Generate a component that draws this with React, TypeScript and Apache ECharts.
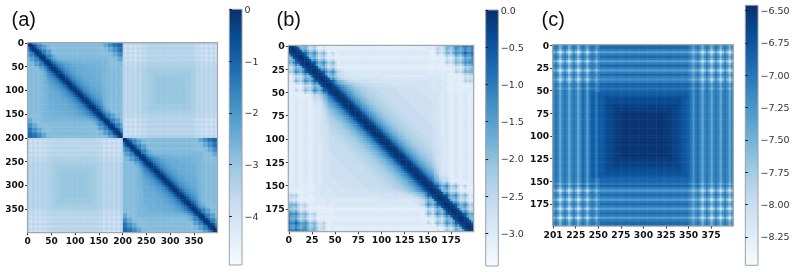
import React, { useEffect, useRef } from "react";
import * as echarts from "echarts";

// Panel (b): each row runs from the diagonal (left part) through a flat level to the far end (right part).
const bFalloff = [0,1,2,5,9,12,14,16,18,19,20,21,22,23,23,24,24,25,25,25,26,26,26,26,26,26,26,26,27,27,27,27,27,27,27,27,27,27,28,28];
const bLeft: number[][] = [
  [0,1,2,5,15,20,18,15,21,26,24,21,27,31,30,27,31,31,31,31],
  [0,1,2,5,18,19,18,22,28,25,24,28,31,31,30,31,31,31,31],
  [0,1,2,5,15,12,18,22,21,18,24,28,27,24,30,31,31,30,31],
  [0,1,2,5,6,12,18,15,12,18,24,21,18,24,30,27,24,30,31,30],
  [0,1,2,5,15,20,18,15,21,26,24,21,27,31,30,27,31,31],
  [0,1,2,5,18,19,18,22,28,25,24,28,31,31,30,31],
  [0,1,2,5,15,12,18,22,21,18,24,28,27,24,30,31,31],
  [0,1,2,5,6,12,18,15,12,18,24,21,18,24,30,30],
  [0,1,2,5,15,20,18,15,21,26,24,21,27,31,30],
  [0,1,2,5,18,19,18,22,28,25,24,28,31],
  [0,1,2,5,15,12,18,22,21,18,24,28,28,29],
  [0,1,2,5,6,12,18,15,12,18,24,25,27,28],
  [0,1,2,5,15,20,18,15,21,26,26,27,28,28],
  [0,1,2,5,18,19,18,21,24,26,27,28,28,29,29,29,29,29,29,29,29,29,29,29,29,29,29,29,29,30],
  [0,1,2,5,15,12,18,21,23,25,26,27,27,28,28,28,28,28,28,28,28,28,28,28,28,28,29,29,29,29],
  [0,1,2,5,6,12,18,19,20,22,23,25,26,26,27,27,27,27,27,27,28,28,28,28,28,28,28,28,28,28],
  [0,1,2,5,11,15,17,19,20,21,22,23,24,25,25,26,26,26,27,27,27,27,27,27,27,27,27,28,28,28],
  [0,1,2,5,9,12,14,16,18,19,21,22,23,24,24,25,25,26,26,26,27,27,27,27,27,27,27,27,28,28],
];
const bLevel = [30,31,30,29,30,31,30,29,30,31,30,29,29,30,29,28,28,28];
const bRight: number[][] = [
  [30,30,31,29,25,26,27,22,18,18,20,15,12,12,14,10,8,11,11,8],
  [29,30,31,29,23,26,28,23,18,20,22,18,12,15,18,15,11,15,15],
  [30,31,31,30,25,27,29,25,19,22,23,19,14,16,18,15,11,15],
  [29,30,31,28,23,25,27,22,18,19,22,16,12,14,16,11,6],
  [30,31,31,31,28,30,31,27,22,25,26,22,16,19,21,16],
  [31,31,31,31,31,31,31,31,27,29,31,26,22,23,26],
  [31,31,31,31,30,31,31,30,25,27,29,25,19,22],
  [30,30,30,30,29,30,31,28,23,25,27,22,18],
  [31,31,31,30,31,31,31,31,28,30,31,27],
  [31,31,31,31,31,31,31,31,31,31,31],
  [31,31,31,30,31,31,31,31,30,31],
  [30,30,30,29,30,30,30,30,29],
  [30,29,29,29,30,29,29,29],
  [29,30,29,30,29,30,30],
  [29,28,29,28,29,29],
  [28,29,28,29,28],
  [29,28,29,29],
  [28,29,29],
];

// Panel (c): parts of the typical rows: columns 0-20, a level or centre run, columns 60-79.
const cDarkL = [71,70,71.5,75,71.5,70,71.5,75,71.5,70,71.5,75,71.5,70,71,74,71,70,70,72.5,71];
const cDarkR = [70,71,73,71,70,71.5,75,71.5,70,71.5,75,71.5,70,71.5,75,71.5,70,71.5,75,71.5];
const cLightL = [75,74,77,82,77,74,77,82,77,74,77,82,77,74,76,80,76,73.5,74,77,74];
const cLightR = [74,75,77,75,74,76.5,81,76.5,74,77,82,77,74,77,82,77,74,77,82,77];
const cHalfL = [72,71,73,77,73,71,73,77,73,71,73,77,73,71,72,76,72,70.5,71,74,71];
const cHalfR = [71,72,74,72,71,73,76.5,73,71,73,77,73,71,73,77,73,71,73,77,73];
const cSoftL = [74,73,76,80,76,73,76,80,76,73,76,80,76,73,75,79,75,72.5,73,76,73];
const cSoftR = [73,74,76,74,73,75.5,79,75.5,73,76,80,76,73,76,80,76,73,76,80,76];
const cEndL = [71,70,71,74,71,70,71,74,71,70,71,74,71,69,70,73,70,69,69,71.5,70];
const cEndR = [69,70,72,70,69,71,74,71,70,71,74,71,70,71,74,71,70,71,74,71];
const cWeakL = [72,71.5,73,76,73,71.5,73,76,73,71.5,73,76,73,71,72,75,72,71,71,73,71];
const cWeakR = [71,72,74,72,71,73,76,73,71,73,76,73,71,73,76,73,71,73,76,73];
const cMidL = [71,70,71,74,71,70,71,74,71,70,71,74,71,69,70,73,70,68,68,70.5,68];
const cMidR = [68.5,70,72.5,70,69.5,71,74,71,70,71,74,71,70,71,74,71,70,71,74,71];
const run = (n: number, v: number) => new Array(n).fill(v);
const cCentre680 = [68];
const cCentre675 = [68, ...run(37, 67.5), 68];
const cCentre670 = [68, 67.5, ...run(35, 67), 67.5, 68];
const cCentre665 = [68, 67.5, 67, ...run(33, 66.5), 67, 67.5, 68];
const cCentre660 = [68, 67.5, 67, 66.5, 66.5, ...run(29, 66), 66.5, 66.5, 67, 67.5, 68];
const cCentre655 = [68, 67.5, 67, 66.5, 66.5, 66, 66, ...run(25, 65.5), 66, 66, 66.5, 66.5, 67, 67.5, 68];
const cCentreCore = [68, 67.5, 67, 66.5, 66.5, 66, 66, 65.5, 65.5, ...run(21, 65), 65.5, 65.5, 66, 66, 66.5, 66.5, 67, 67.5, 68];

const aTicks = [0, 50, 100, 150, 200, 250, 300, 350];
const bTicks = [0, 25, 50, 75, 100, 125, 150, 175];
const cYTicks = [0, 25, 50, 75, 100, 125, 150, 175];
const cXTicks = [0, 25, 50, 75, 100, 125, 150, 175];
const cXTickLabels = ["201", "225", "250", "275", "300", "325", "350", "375"];
const aBarTicks = [0, -1, -2, -3, -4];
const bBarTicks = [0, -0.5, -1, -1.5, -2, -2.5, -3];
const cBarTicks = [-6.5, -6.75, -7, -7.25, -7.5, -7.75, -8, -8.25];
const aRange = [-4.94, 0];
const bRange = [-3.44, 0];
const cRange = [-8.47, -6.46];
const aDiagonalScale = 0.93; // panel (a) shows (b)'s block in its own normalisation
const aOffBase = -3.0;
const aOffSlope = 0.8; // panel (a) shows (c)'s block in its own normalisation
const blues = ["#f7fbff", "#deebf7", "#c6dbef", "#9ecae1", "#6baed6", "#4292c6", "#2171b5", "#08519c", "#08306b"];
const labelFont = '"DejaVu Sans"';

const N = 80;
const bMatrix: number[][] = Array.from({ length: N }, () => new Array(N).fill(-2.8));
for (let i = 0; i < N / 2; i++) {
  const last = N - 1 - i;
  const row = new Array(N - 2 * i).fill(bLevel[i] ?? 28);
  const right = bRight[i] ?? [];
  (bLeft[i] ?? bFalloff).forEach((v, k) => { if (k < row.length) row[k] = v; });
  right.forEach((v, k) => { row[row.length - right.length + k] = v; });
  row.forEach((v: number, k: number) => {
    const j = i + k;
    const value = -v / 10;
    bMatrix[i][j] = value;
    bMatrix[j][i] = value;
    bMatrix[N - 1 - j][last] = value;
    bMatrix[last][N - 1 - j] = value;
  });
}
const cRow = (l: number[], centre: number[], r: number[]) => [
  ...l,
  ...Array.from({ length: 39 }, (_, k) => centre[k] ?? centre[centre.length - 1]),
  ...r,
];
const rDark = cRow(cDarkL, [69], cDarkR);
const rLight = cRow(cLightL, [73], cLightR);
const rHalf = cRow(cHalfL, [70.5], cHalfR);
const rSoft = cRow(cSoftL, [72], cSoftR);
const rEnd = cRow(cEndL, [68.5], cEndR);
const rWeak = cRow(cWeakL, [70], cWeakR);
const r680 = cRow(cMidL, cCentre680, cMidR);
const r675 = cRow(cMidL, cCentre675, cMidR);
const r670 = cRow(cMidL, cCentre670, cMidR);
const r665 = cRow(cMidL, cCentre665, cMidR);
const r660 = cRow(cMidL, cCentre660, cMidR);
const r655 = cRow(cMidL, cCentre655, cMidR);
const rCore = cRow(cMidL, cCentreCore, cMidR);
const cRows = [
  rDark, rDark, rHalf, rLight, rHalf, rDark, rHalf, rLight, rHalf, rDark,
  rHalf, rLight, rHalf, rDark, rHalf, rSoft, rHalf, rEnd, rEnd, rWeak,
  rEnd, r680, r675, r670, r665, r665, r660, r660, r655, r655,
  rCore, rCore, rCore, rCore, rCore, rCore, rCore, rCore, rCore, rCore,
  rCore, rCore, rCore, rCore, rCore, rCore, rCore, rCore, rCore, rCore,
  r655, r655, r660, r660, r665, r665, r670, r675, r680, rEnd,
  rEnd, rWeak, rEnd, rHalf, rLight, rHalf, rDark, rHalf, rLight, rHalf,
  rDark, rHalf, rLight, rHalf, rDark, rHalf, rLight, rHalf, rDark, rDark,
];
const cMatrix = cRows.map((r) => r.map((v) => -v / 10));

// Panel (a) holds both blocks at half the cell count.
const half = (m: number[][], i: number, j: number) => {
  const a = i * 2, b = j * 2;
  return (m[a][b] + m[a + 1][b] + m[a][b + 1] + m[a + 1][b + 1]) / 4;
};
const aData: number[][] = [];
for (let i = 0; i < N / 2; i++)
  for (let j = 0; j < N / 2; j++) {
    const d = half(bMatrix, i, j) * aDiagonalScale;
    const o = aOffBase + (half(cMatrix, i, j) + 6.5) * aOffSlope;
    aData.push([j, i, d], [j + N / 2, i + N / 2, d], [j + N / 2, i, o], [i, j + N / 2, o]);
  }
const toCells = (m: number[][]) => m.flatMap((r, i) => r.map((v, j) => [j, i, v]));
const cats = (n: number) => Array.from({ length: n }, (_, i) => String(i));

type Box = { left: number; top: number; width: number; height: number };
const boxes: Box[] = [
  { left: 27.5, top: 42.7, width: 190, height: 190 },
  { left: 288.3, top: 45.3, width: 185.4, height: 186.4 },
  { left: 552.7, top: 44.7, width: 180.6, height: 181.3 },
];
const barBoxes: Box[] = [
  { left: 229.3, top: 9.3, width: 12.7, height: 255.7 },
  { left: 485.7, top: 10, width: 12.6, height: 256 },
  { left: 745.3, top: 5.3, width: 12.7, height: 260 },
];

function buildOption() {
  const grid: any[] = [];
  const xAxis: any[] = [];
  const yAxis: any[] = [];
  const series: any[] = [];
  const tickStyle = { show: true, length: 2.5, lineStyle: { color: "#333", width: 1 } };
  const panels = [
    { data: aData, n: 80, xr: [-0.5, 399.5], yr: [-0.5, 399.5], xt: aTicks, yt: aTicks, range: aRange, font: 9, fmt: (v: number) => String(v) },
    { data: toCells(bMatrix), n: 80, xr: [-0.5, 199.5], yr: [-0.5, 199.5], xt: bTicks, yt: bTicks, range: bRange, font: 9.4, fmt: (v: number) => String(v) },
    { data: toCells(cMatrix), n: 80, xr: [-0.5, 199.5], yr: [-0.5, 199.5], xt: cXTicks, yt: cYTicks, range: cRange, font: 9.2, fmt: (v: number) => cXTickLabels[cXTicks.indexOf(v)] },
  ];
  const bars = [
    { ticks: aBarTicks, range: aRange, dec: 0 },
    { ticks: bBarTicks, range: bRange, dec: 1 },
    { ticks: cBarTicks, range: cRange, dec: 2 },
  ];
  panels.forEach((p, i) => {
    const g = grid.length;
    grid.push({ ...boxes[i] });
    const xi = xAxis.length;
    const yi = yAxis.length;
    xAxis.push({ type: "category", gridIndex: g, data: cats(p.n), show: false });
    yAxis.push({ type: "category", gridIndex: g, data: cats(p.n), inverse: true, show: false });
    const label = { fontFamily: labelFont, fontWeight: "bold", fontSize: p.font, color: "#111", margin: 3.5 };
    xAxis.push({
      type: "value", gridIndex: g, position: "bottom", min: p.xr[0], max: p.xr[1], splitLine: { show: false },
      axisLine: { show: false }, axisTick: { ...tickStyle, customValues: p.xt },
      axisLabel: { ...label, customValues: p.xt, formatter: p.fmt },
    });
    yAxis.push({
      type: "value", gridIndex: g, position: "left", inverse: true, min: p.yr[0], max: p.yr[1], splitLine: { show: false },
      axisLine: { show: false }, axisTick: { ...tickStyle, customValues: p.yt },
      axisLabel: { ...label, customValues: p.yt, formatter: (v: number) => String(v) },
    });
    series.push({ type: "heatmap", xAxisIndex: xi, yAxisIndex: yi, data: p.data, progressive: 0, itemStyle: { borderWidth: 0 } });
  });
  bars.forEach((b, i) => {
    const g = grid.length;
    grid.push({
      ...barBoxes[i], show: true, borderColor: "#9aa0a8", borderWidth: 1,
      backgroundColor: new echarts.graphic.LinearGradient(0, 0, 0, 1, blues.map((color, k) => ({ offset: 1 - k / (blues.length - 1), color })).reverse()),
    });
    xAxis.push({ type: "value", gridIndex: g, show: false, min: 0, max: 1 });
    yAxis.push({
      type: "value", gridIndex: g, position: "right", min: b.range[0], max: b.range[1], splitLine: { show: false },
      axisLine: { show: false },
      axisTick: { show: true, length: 2.5, lineStyle: { color: "#111", width: 1 }, customValues: b.ticks },
      axisLabel: {
        customValues: b.ticks, fontFamily: labelFont, fontSize: 9.5, color: "#333", margin: 2.5,
        formatter: (v: number) => v.toFixed(b.dec).replace("-", "\u2212"),
      },
    });
  });
  const titleStyle = { fontFamily: '"Liberation Sans"', fontSize: 20, fontWeight: "normal", color: "#111" };
  return {
    animation: false,
    backgroundColor: "#fff",
    title: [
      { text: "(a)", left: 6.5, top: 4, textStyle: titleStyle },
      { text: "(b)", left: 271.5, top: 4, textStyle: titleStyle },
      { text: "(c)", left: 536.5, top: 4, textStyle: titleStyle },
    ],
    grid,
    xAxis,
    yAxis,
    visualMap: panels.map((p, i) => ({
      type: "continuous", show: false, seriesIndex: i, dimension: 2, min: p.range[0], max: p.range[1], inRange: { color: blues },
    })),
    series,
    graphic: boxes.map((b) => ({
      type: "rect", z: 100, silent: true,
      shape: { x: b.left, y: b.top, width: b.width, height: b.height },
      style: { fill: "none", stroke: "#a3a6aa", lineWidth: 1.2 },
    })),
  };
}

export default function App() {
  const ref = useRef<HTMLDivElement>(null);
  useEffect(() => {
    const chart = echarts.init(ref.current!, undefined, { renderer: "svg" });
    chart.setOption(buildOption() as any);
    return () => chart.dispose();
  }, []);
  return <div ref={ref} style={{ position: "absolute", left: 0, top: 0, width: 795, height: 272, filter: "blur(0.4px)" }} />;
}
